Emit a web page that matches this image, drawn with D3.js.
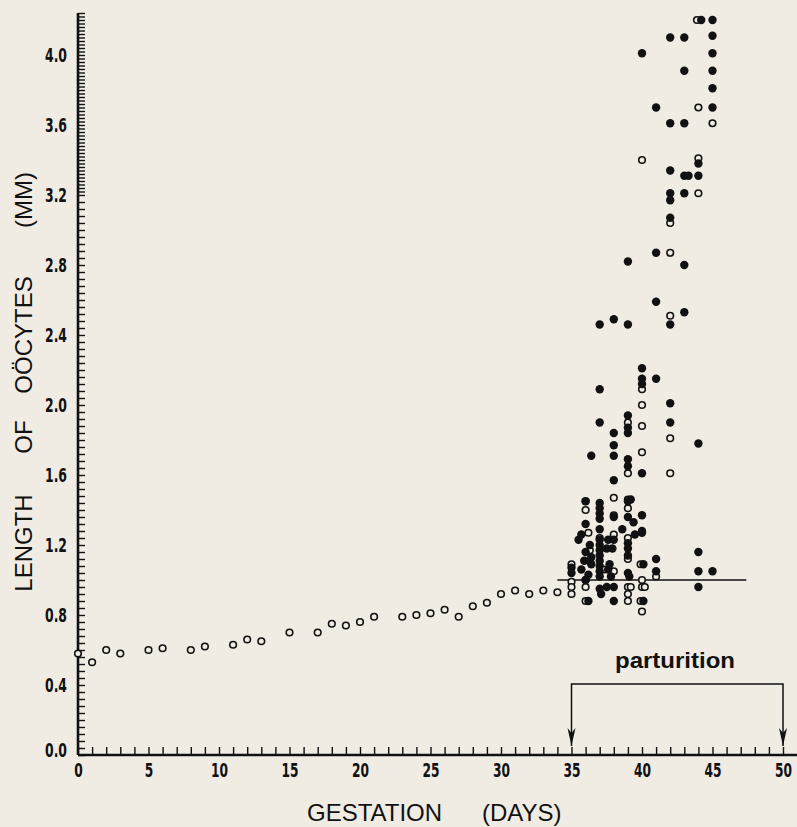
<!DOCTYPE html>
<html>
<head>
<meta charset="utf-8">
<script src="https://cdn.jsdelivr.net/npm/d3@7"></script>
<style>
	body { margin: 0; background: #f0ece4; }
	svg { display: block; }
	.axis text { font-family: "Liberation Sans Narrow", "DejaVu Sans Condensed", sans-serif; font-weight: bold; font-size: 19px; fill: #111; }
	.axis line { stroke: #111; stroke-width: 1.4; }
	.title { font-family: "Liberation Sans", Arial, sans-serif; font-size: 24px; fill: #111; }
	.part { font-family: "Liberation Sans", Arial, sans-serif; font-weight: bold; font-size: 22px; fill: #111; }
</style>
</head>
<body>
<div id="chart"></div>
<script>

// early gestation: [day, length mm], open circles
var earlyPts = [
	[0,0.58],[1,0.53],[2,0.60],[3,0.58],[5,0.60],[6,0.61],[8,0.60],[9,0.62],
	[11,0.63],[12,0.66],[13,0.65],[15,0.70],[17,0.70],[18,0.75],[19,0.74],
	[20,0.76],[21,0.79],[23,0.79],[24,0.80],[25,0.81],[26,0.83],[27,0.79],
	[28,0.85],[29,0.87],[30,0.92],[31,0.94],[32,0.92],[33,0.94],[34,0.93]
];

// late gestation, open circles
var openPts = [
	[35,1.09],[35,0.99],[35,0.96],[35,0.92],
	[36,1.45],[36,1.40],[36.2,1.27],[36.3,1.17],[36,0.96],[36,0.88],[36,1.00],
	[37,1.24],[37.3,1.06],
	[38,1.47],[38,1.37],[38,1.26],[38,1.05],
	[39,1.90],[39,1.61],[39,1.46],[39,1.41],[39,1.24],[39,1.12],[39,0.96],[39.2,0.96],[39,0.92],[39,0.88],
	[40,3.40],[40,2.09],[40,2.00],[40,1.88],[40,1.73],[39.9,1.09],[40,1.00],[40,0.96],[40.2,0.96],[39.9,0.88],[40,0.82],
	[41,1.02],
	[42,3.04],[42,2.87],[42,2.51],[42,1.81],[42,1.61],
	[43.9,4.20],[44,3.70],[44,3.41],[44,3.21],
	[45,3.61]
];

// late gestation, filled circles
var filledPts = [
	[35,1.07],[35,1.04],
	[35.5,1.23],[35.7,1.26],[36,1.45],[36,1.32],[36.3,1.20],[36,1.16],[35.9,1.11],[36.3,1.11],
	[36.4,1.13],[36.4,1.09],[35.7,1.06],[36.2,1.03],[36,1.00],[36.2,0.88],[36.4,1.71],
	[37,2.46],[37,2.09],[37,1.90],[37,1.44],[37,1.41],[37,1.38],[37,1.35],[37,1.29],
	[37,1.23],[37,1.20],[37,1.17],[37,1.14],[37,1.11],[37,1.08],[37,1.05],[37,1.02],
	[37.6,1.23],[37.5,1.18],[37.7,1.09],[37.6,1.06],[37.8,1.02],[37,0.95],[37.1,0.92],[37.5,0.96],
	[38,2.49],[38,1.84],[38,1.77],[38,1.71],[38,1.57],[38,1.36],[38,1.23],[37.9,1.18],[38,0.96],[38,0.88],[38.6,1.29],
	[39,2.82],[39,2.46],[39,1.94],[39,1.87],[39,1.84],[39,1.69],[39,1.65],[39.2,1.46],[39,1.45],[39,1.36],
	[39.4,1.33],[39.5,1.26],[39,1.21],[39,1.18],[39,1.14],[39,1.04],[39.1,1.02],
	[40,4.01],[40,2.21],[40,2.15],[40,2.12],[40,1.61],[40,1.37],[40,1.28],[40,1.27],[40.1,1.09],[40.1,0.88],
	[41,3.70],[41,2.87],[41,2.59],[41,2.15],[41,1.12],[41,1.05],
	[42,4.10],[42,3.61],[42,3.34],[42,3.21],[42,3.17],[42,3.07],[42,2.46],[42,2.01],[42,1.90],
	[43,4.10],[43,3.91],[43,3.61],[43,3.31],[43.3,3.31],[43,3.21],[43,2.80],[43,2.53],
	[44.2,4.20],[44,3.38],[44,3.31],[44,1.78],[44,1.16],[44,1.05],[44,0.96],
	[45,4.20],[45,4.11],[45,4.01],[45,3.91],[45,3.81],[45,3.70],[45,1.05]
];

var xLabelDays = [0,5,10,15,20,25,30,35,40,45,50];
var parturitionDays = [35, 50];
var refLine = { length: 1.0, from: 34, to: 47.4 };

var bg = "#f0ece4";

var svg = d3.select("#chart").append("svg")
	.attr("width", 797)
	.attr("height", 827);

var x = d3.scaleLinear().domain([0, 50]).range([78, 783]);
var y = d3.scaleLinear().domain([0, 4]).range([755, 55]);

// squeeze tick labels to look like the condensed type of the original
var squeeze = function(sel, perChar) {
	sel.each(function() {
		var t = d3.select(this), s = t.text();
		if (s) {
			t.attr("textLength", s.replace(".", "").length * perChar + (s.indexOf(".") >= 0 ? 4 : 0))
			 .attr("lengthAdjust", "spacingAndGlyphs");
		}
	});
}

// x axis: tick every day, label every 5
var xAxis = d3.axisBottom(x)
	.tickValues(d3.range(0, 51))
	.tickSize(-8)
	.tickSizeOuter(0)
	.tickPadding(8)
	.tickFormat(function(d) { return xLabelDays.indexOf(d) >= 0 ? d : ""; });

var gx = svg.append("g")
	.attr("class", "axis")
	.attr("transform", "translate(0," + y(0) + ")")
	.call(xAxis);
gx.select(".domain").remove();
gx.selectAll("text").attr("dy", "0.72em").call(squeeze, 8.5);

// y axis: ticks 0.04 below 3.2, 0.02 above
var yTicks = d3.range(0, 80).map(function(i) { return i * 0.04; })
	.concat(d3.range(160, 213).map(function(i) { return i * 0.02; }));

var yAxis = d3.axisLeft(y)
	.tickValues(yTicks)
	.tickSize(-7)
	.tickSizeOuter(0)
	.tickPadding(11)
	.tickFormat(function(d) {
		var k = Math.round(d * 100);
		return (k % 40 === 0 && k <= 400) ? d3.format(".1f")(d) : "";
	});

var gy = svg.append("g")
	.attr("class", "axis")
	.attr("transform", "translate(" + x(0) + ",0)")
	.call(yAxis);
gy.select(".domain").remove();
gy.selectAll("text").call(squeeze, 9);
// lift the 0.0 label a little off the day labels
gy.selectAll(".tick text").filter(function(d) { return d === 0; }).attr("dy", "0.1em");

// axis lines
svg.append("line")
	.attr("x1", x(0)).attr("x2", x(51))
	.attr("y1", y(0)).attr("y2", y(0))
	.attr("stroke", "#111").attr("stroke-width", 2.6);
svg.append("line")
	.attr("x1", x(0)).attr("x2", x(0))
	.attr("y1", y(0)).attr("y2", y(4.24))
	.attr("stroke", "#111").attr("stroke-width", 2.6);

// reference line at 1.0 mm
svg.append("line")
	.attr("x1", x(refLine.from)).attr("x2", x(refLine.to))
	.attr("y1", y(refLine.length)).attr("y2", y(refLine.length))
	.attr("stroke", "#111").attr("stroke-width", 1.5);

// open circles
svg.append("g").selectAll("circle")
	.data(earlyPts.concat(openPts))
	.enter()
	.append("circle")
	.attr("cx", function(d) { return x(d[0]); })
	.attr("cy", function(d) { return y(d[1]); })
	.attr("r", 3.3)
	.attr("fill", bg)
	.attr("stroke", "#111")
	.attr("stroke-width", 1.6);

// filled circles
svg.append("g").selectAll("circle")
	.data(filledPts)
	.enter()
	.append("circle")
	.attr("cx", function(d) { return x(d[0]); })
	.attr("cy", function(d) { return y(d[1]); })
	.attr("r", 4.2)
	.attr("fill", "#111");

// parturition bracket
var bTop = 684, bBot = 746;
svg.append("path")
	.attr("d", "M" + x(parturitionDays[0]) + "," + bBot + "V" + bTop + "H" + x(parturitionDays[1]) + "V" + bBot)
	.attr("fill", "none")
	.attr("stroke", "#111")
	.attr("stroke-width", 1.5);
svg.selectAll(".arrow")
	.data(parturitionDays)
	.enter()
	.append("path")
	.attr("class", "arrow")
	.attr("d", function(d) {
		var px = x(d);
		return "M" + (px - 4) + "," + (bBot - 18) + "L" + px + "," + bBot + "L" + (px + 4) + "," + (bBot - 18) + "L" + px + "," + (bBot - 13) + "Z";
	})
	.attr("fill", "#111");

svg.append("text")
	.attr("class", "part")
	.attr("x", 615)
	.attr("y", 668)
	.attr("textLength", 120)
	.attr("lengthAdjust", "spacingAndGlyphs")
	.text("parturition");

// axis titles
svg.append("text").attr("class", "title").attr("x", 307).attr("y", 821).text("GESTATION");
svg.append("text").attr("class", "title").attr("x", 482).attr("y", 821).text("(DAYS)");

var yTitle = [["LENGTH", 543], ["OF", 437], ["OÖCYTES", 335], ["(MM)", 200]];
svg.selectAll(".ytitle")
	.data(yTitle)
	.enter()
	.append("text")
	.attr("class", "title ytitle")
	.attr("text-anchor", "middle")
	.attr("transform", function(d) { return "translate(32," + d[1] + ")rotate(-90)"; })
	.text(function(d) { return d[0]; });

</script>
</body>
</html>
